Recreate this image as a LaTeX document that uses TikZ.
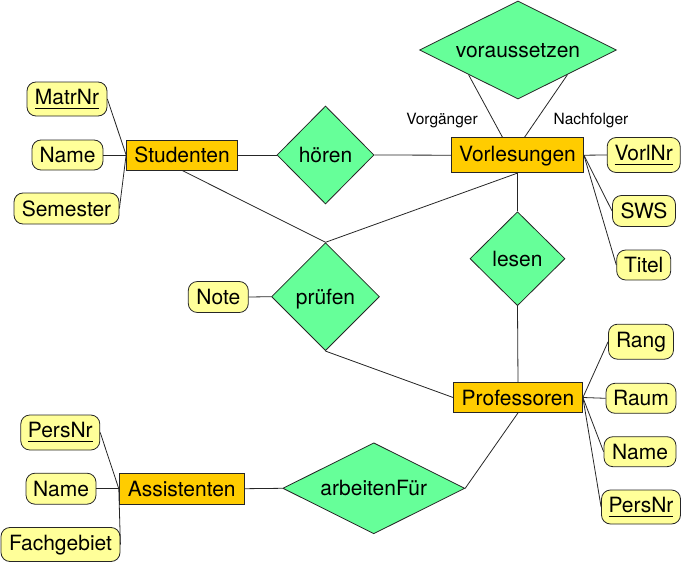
\documentclass[tikz,border=0pt]{standalone}
\usepackage{fontspec}
\setmainfont{TeX Gyre Heros}
\usetikzlibrary{shapes.geometric,calc}
\definecolor{entfill}{RGB}{255,204,0}
\definecolor{attfill}{RGB}{255,255,153}
\definecolor{relfill}{RGB}{102,255,153}
\newcommand\keyu[1]{\setbox0=\hbox{#1}\rlap{\rule[-4.5pt]{\wd0}{1pt}}\box0}
\begin{document}
\begin{tikzpicture}[x=1pt,y=-1pt,
 base/.style={inner sep=0pt, font=\fontsize{21}{24}\selectfont, text height=15.1pt, text depth=0pt, draw=black!85, line width=0.8pt},
 entity/.style={base, rectangle, fill=entfill},
 attr/.style={base, rectangle, rounded corners=9pt, fill=attfill},
 rel/.style={base, diamond, fill=relfill},
 key/.style={text depth=5pt},
 desc/.style={text depth=3pt},
 role/.style={inner sep=0pt, font=\fontsize{15.5}{18}\selectfont, text height=11.1pt, text depth=0pt},
 link/.style={draw=black!85, line width=0.8pt}]
\useasboundingbox (0,0) rectangle (681,562);

% entities
\node[entity, minimum width=111pt, minimum height=30pt] (stud) at (182,155) {Studenten};
\node[entity, desc, minimum width=132pt, minimum height=35pt] (vorl) at (517.5,155.2) {Vorlesungen};
\node[entity, minimum width=129pt, minimum height=30pt] (prof) at (518,397.5) {Professoren};
\node[entity, minimum width=125pt, minimum height=31pt] (assi) at (181.7,488.7) {Assistenten};

% relationships
\node[rel, minimum width=97pt, minimum height=98pt] (hoer) at (325.5,155) {hören};
\node[rel, shape aspect=2, minimum width=197pt, minimum height=98pt] (vors) at (518,50) {voraussetzen};
\node[rel, minimum width=95pt, minimum height=94pt] (lese) at (517.5,258.7) {lesen};
\node[rel, minimum width=108pt, minimum height=108pt] (prue) at (325.5,296.7) {prüfen};
\node[rel, shape aspect=2, minimum width=182pt, minimum height=91pt] (arbf) at (373.8,488.3) {arbeitenFür};

% roles
\node[role] (vorg) at (442,119) {Vorgänger};
\node[role] (nach) at (591,119) {Nachfolger};

% attributes
\node[attr, key, minimum width=80pt, minimum height=34pt] (smat) at (67,99) {\keyu{MatrNr}};
\node[attr, minimum width=71pt, minimum height=30pt] (snam) at (67.5,155) {Name};
\node[attr, minimum width=105pt, minimum height=31pt] (ssem) at (66.5,208.5) {Semester};

\node[attr, key, minimum width=73pt, minimum height=35pt] (vnr) at (643.7,155) {\keyu{VorlNr}};
\node[attr, minimum width=63pt, minimum height=31pt] (vsws) at (644,211) {SWS};
\node[attr, minimum width=54pt, minimum height=30pt] (vtit) at (643.7,265) {Titel};

\node[attr, desc, minimum width=65pt, minimum height=35pt] (prang) at (641,341.7) {Rang};
\node[attr, minimum width=70pt, minimum height=30pt] (praum) at (641,398.3) {Raum};
\node[attr, minimum width=72pt, minimum height=30pt] (pnam) at (640,451.7) {Name};
\node[attr, key, minimum width=79pt, minimum height=34pt] (ppnr) at (641,507) {\keyu{PersNr}};

\node[attr, minimum width=60pt, minimum height=31pt] (note) at (218.3,297) {Note};

\node[attr, key, minimum width=79pt, minimum height=35pt] (apnr) at (60.3,432.5) {\keyu{PersNr}};
\node[attr, minimum width=70pt, minimum height=31pt] (anam) at (61,488.7) {Name};
\node[attr, desc, minimum width=119pt, minimum height=34pt] (afach) at (60.5,544.5) {Fachgebiet};

% connectors
\draw[link] (smat.east) -- (stud.west);
\draw[link] (snam.east) -- (stud.west);
\draw[link] (ssem.east) -- (stud.west);
\draw[link] (stud.east) -- (hoer.west);
\draw[link] (hoer.east) -- (vorl.west);
\draw[link] ($(vors.west)!0.5!(vors.south)$) -- ([xshift=-15pt]vorl.north);
\draw[link] ($(vors.east)!0.5!(vors.south)$) -- ([xshift=7pt]vorl.north);
\draw[link] (vorl.east) -- (vnr.west);
\draw[link] (vorl.east) -- (vsws.west);
\draw[link] (vorl.east) -- (vtit.west);
\draw[link] (vorl.south) -- (lese.north);
\draw[link] (lese.south) -- (prof.north);
\draw[link] (stud.south) -- (prue.north);
\draw[link] (vorl.south) -- (prue.north);
\draw[link] (prue.south) -- (prof.west);
\draw[link] (note.east) -- (prue.west);
\draw[link] (prof.east) -- (prang.west);
\draw[link] (prof.east) -- (praum.west);
\draw[link] (prof.east) -- (pnam.west);
\draw[link] (prof.east) -- (ppnr.west);
\draw[link] (apnr.east) -- (assi.west);
\draw[link] (anam.east) -- (assi.west);
\draw[link] (afach.east) -- (assi.west);
\draw[link] (assi.east) -- (arbf.west);
\draw[link] (arbf.east) -- (prof.south);
\end{tikzpicture}
\end{document}
